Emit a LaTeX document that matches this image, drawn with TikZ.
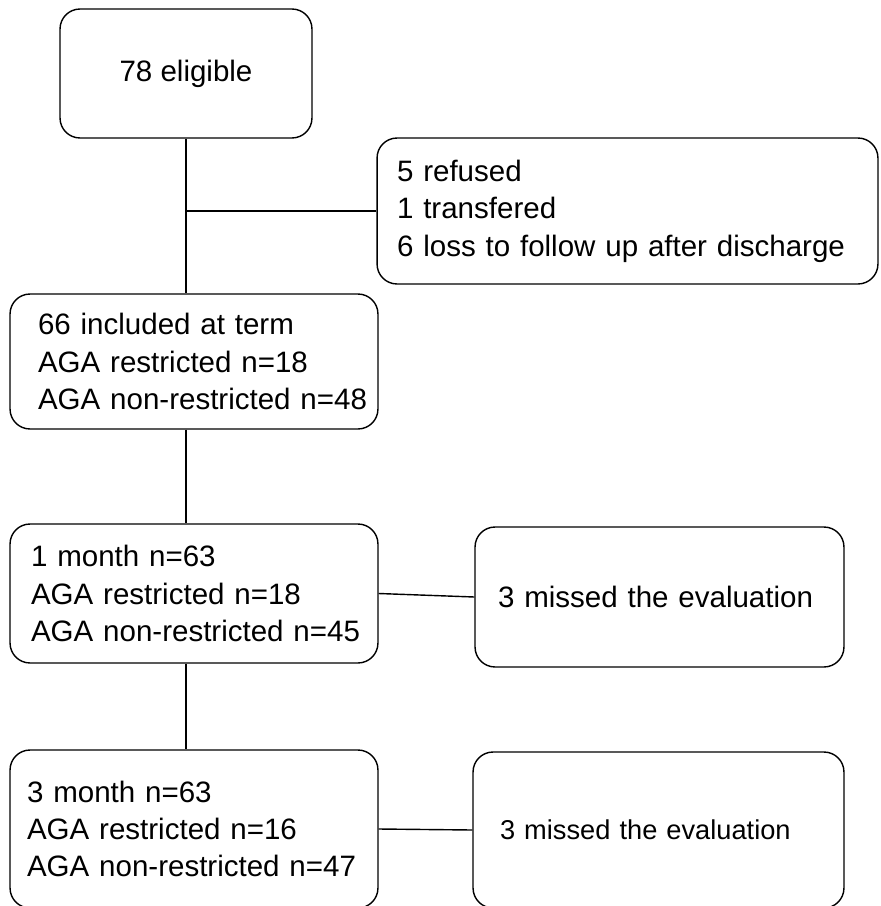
\documentclass[tikz,border=0pt]{standalone}
\usepackage{fontspec}
\setmainfont{Liberation Sans}
\usetikzlibrary{calc}

\begin{document}
\begin{tikzpicture}[x=0.02cm, y=-0.02cm,
    box/.style={draw, rounded corners=0.4cm, line width=0.8pt, align=left,
        font=\fontsize{16.8}{21.3}\selectfont}]
    \path[use as bounding box, clip] (0,0) rectangle (880,906);

    % Enrolment
    \node[box, align=center, minimum width=5.04cm, minimum height=2.58cm] (eligible) at (186,73.5) {78 eligible};
    \node[box, inner xsep=0.4cm, text width=9.22cm, minimum height=2.92cm] (refused) at (627.5,211)
        {5 refused\\1 transfered\\\mbox{6 loss to follow up after discharge}};
    \node[box, inner xsep=0.56cm, text width=6.24cm, minimum height=2.7cm] (included) at (194,361.5)
        {66 included at term\\AGA restricted n=18\\\mbox{AGA non-restricted n=48}};

    % Follow up
    \node[box, inner xsep=0.42cm, text width=6.52cm, minimum height=2.78cm] (month1) at (194,593.5)
        {1 month n=63\\AGA restricted n=18\\\mbox{AGA non-restricted n=45}};
    \node[box, inner xsep=0.46cm, text width=6.46cm, minimum height=2.8cm] (miss1) at (659.5,597)
        {3 missed the evaluation};
    \node[box, inner xsep=0.34cm, text width=6.68cm, minimum height=3.16cm] (month3) at (194,829)
        {3 month n=63\\AGA restricted n=16\\\mbox{AGA non-restricted n=47}};
    \node[box, inner xsep=0.54cm, text width=6.34cm, minimum height=3.12cm,
        font=\fontsize{15.5}{20}\selectfont] (miss3) at (658.5,830)
        {3 missed the evaluation};

    % Connectors
    \coordinate (split) at (eligible.south |- refused.west);
    \draw[line width=0.8pt] (eligible.south) -- (eligible.south |- included.north);
    \draw[line width=0.8pt] (split) -- (refused.west);
    \draw[line width=0.8pt] (included.south -| eligible.south) -- (month1.north -| eligible.south);
    \draw[line width=0.8pt] (month1.east) -- (miss1.west);
    \draw[line width=0.8pt] (month1.south -| eligible.south) -- (month3.north -| eligible.south);
    \draw[line width=0.8pt] (month3.east) -- (miss3.west);
\end{tikzpicture}
\end{document}
